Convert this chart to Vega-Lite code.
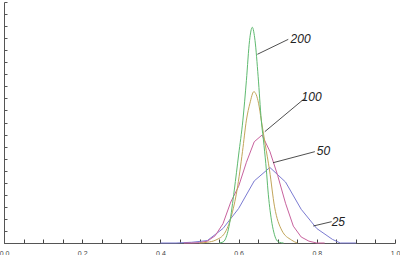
{
  "$schema": "https://vega.github.io/schema/vega-lite/v6.json",
  "width": 391,
  "height": 241,
  "autosize": {"type": "none"},
  "padding": {"left": 4, "top": 2, "right": 5, "bottom": 12},
  "background": "white",
  "config": {"view": {"stroke": null}},
  "datasets": {
    "curves": [
      {"n": "25", "x": 0.40, "y": 0},
      {"n": "25", "x": 0.44, "y": 0},
      {"n": "25", "x": 0.48, "y": 0.06},
      {"n": "25", "x": 0.52, "y": 0.2},
      {"n": "25", "x": 0.56, "y": 1.2},
      {"n": "25", "x": 0.60, "y": 2.86},
      {"n": "25", "x": 0.64, "y": 5.15},
      {"n": "25", "x": 0.68, "y": 6.27},
      {"n": "25", "x": 0.72, "y": 5.06},
      {"n": "25", "x": 0.76, "y": 2.8},
      {"n": "25", "x": 0.80, "y": 1.2},
      {"n": "25", "x": 0.84, "y": 0.3},
      {"n": "25", "x": 0.86, "y": 0},
      {"n": "25", "x": 0.90, "y": 0},
      {"n": "50", "x": 0.46, "y": 0},
      {"n": "50", "x": 0.48, "y": 0},
      {"n": "50", "x": 0.50, "y": 0.03},
      {"n": "50", "x": 0.52, "y": 0.15},
      {"n": "50", "x": 0.54, "y": 0.6},
      {"n": "50", "x": 0.56, "y": 1.6},
      {"n": "50", "x": 0.58, "y": 3.4},
      {"n": "50", "x": 0.60, "y": 4.7},
      {"n": "50", "x": 0.62, "y": 6.7},
      {"n": "50", "x": 0.64, "y": 8.4},
      {"n": "50", "x": 0.66, "y": 8.96},
      {"n": "50", "x": 0.68, "y": 7.6},
      {"n": "50", "x": 0.70, "y": 5.6},
      {"n": "50", "x": 0.72, "y": 3.3},
      {"n": "50", "x": 0.74, "y": 1.4},
      {"n": "50", "x": 0.76, "y": 0.5},
      {"n": "50", "x": 0.78, "y": 0.15},
      {"n": "50", "x": 0.80, "y": 0},
      {"n": "50", "x": 0.82, "y": 0},
      {"n": "100", "x": 0.50, "y": 0},
      {"n": "100", "x": 0.52, "y": 0.06},
      {"n": "100", "x": 0.542, "y": 0.25},
      {"n": "100", "x": 0.564, "y": 0.8},
      {"n": "100", "x": 0.581, "y": 2.18},
      {"n": "100", "x": 0.596, "y": 4.4},
      {"n": "100", "x": 0.61, "y": 7.6},
      {"n": "100", "x": 0.62, "y": 10.2},
      {"n": "100", "x": 0.629, "y": 11.6},
      {"n": "100", "x": 0.639, "y": 12.56},
      {"n": "100", "x": 0.651, "y": 11.6},
      {"n": "100", "x": 0.658, "y": 10.2},
      {"n": "100", "x": 0.668, "y": 8.2},
      {"n": "100", "x": 0.679, "y": 6.06},
      {"n": "100", "x": 0.692, "y": 3.0},
      {"n": "100", "x": 0.71, "y": 1.08},
      {"n": "100", "x": 0.735, "y": 0.25},
      {"n": "100", "x": 0.75, "y": 0},
      {"n": "200", "x": 0.55, "y": 0},
      {"n": "200", "x": 0.56, "y": 0.08},
      {"n": "200", "x": 0.565, "y": 0.25},
      {"n": "200", "x": 0.577, "y": 1.63},
      {"n": "200", "x": 0.589, "y": 4.4},
      {"n": "200", "x": 0.60, "y": 7.3},
      {"n": "200", "x": 0.611, "y": 10.2},
      {"n": "200", "x": 0.62, "y": 13.5},
      {"n": "200", "x": 0.628, "y": 16.8},
      {"n": "200", "x": 0.635, "y": 17.9},
      {"n": "200", "x": 0.642, "y": 16.8},
      {"n": "200", "x": 0.65, "y": 13.8},
      {"n": "200", "x": 0.658, "y": 10.2},
      {"n": "200", "x": 0.665, "y": 8.1},
      {"n": "200", "x": 0.671, "y": 6.06},
      {"n": "200", "x": 0.675, "y": 4.4},
      {"n": "200", "x": 0.684, "y": 1.9},
      {"n": "200", "x": 0.69, "y": 0.9},
      {"n": "200", "x": 0.697, "y": 0.25},
      {"n": "200", "x": 0.705, "y": 0.05},
      {"n": "200", "x": 0.715, "y": 0}
    ],
    "callouts": [
      {"label": "200", "x": 0.648, "y": 15.66, "x2": 0.727, "y2": 16.9},
      {"label": "100", "x": 0.667, "y": 9.24, "x2": 0.769, "y2": 12.0},
      {"label": "50", "x": 0.688, "y": 6.66, "x2": 0.795, "y2": 7.58},
      {"label": "25", "x": 0.791, "y": 1.41, "x2": 0.838, "y2": 1.77}
    ],
    "texts": [
      {"label": "200", "x": 0.733, "y": 16.93},
      {"label": "100", "x": 0.761, "y": 12.12},
      {"label": "50", "x": 0.800, "y": 7.63},
      {"label": "25", "x": 0.838, "y": 1.77}
    ]
  },
  "encoding": {
    "x": {
      "field": "x", "type": "quantitative",
      "scale": {"domain": [0, 1], "nice": false, "zero": false},
      "axis": {
        "title": null, "grid": false,
        "values": [0, 0.05, 0.1, 0.15, 0.2, 0.25, 0.3, 0.35, 0.4, 0.45, 0.5, 0.55, 0.6, 0.65, 0.7, 0.75, 0.8, 0.85, 0.9, 0.95, 1.0],
        "labelExpr": "abs(datum.value*5 - round(datum.value*5)) < 0.001 ? format(datum.value, '.1f') : ''",
        "labelFlush": false, "labelOverlap": false,
        "labelFont": "Liberation Sans", "labelFontSize": 7, "labelColor": "#444",
        "labelPadding": 10,
        "tickSize": -4, "tickColor": "#444", "tickWidth": 1,
        "domainColor": "#555", "domainWidth": 1
      }
    },
    "y": {
      "field": "y", "type": "quantitative",
      "scale": {"domain": [0, 20], "nice": false, "zero": true},
      "axis": {
        "title": null, "grid": false, "labels": false,
        "values": [0, 1, 2, 3, 4, 5, 6, 7, 8, 9, 10, 11, 12, 13, 14, 15, 16, 17, 18, 19, 20],
        "tickSize": -3, "tickColor": "#555", "tickWidth": 1,
        "domainColor": "#555", "domainWidth": 1,
        "encode": {"ticks": {"update": {"x2": {"signal": "datum.value % 5 == 0 ? 5 : 3"}}}}
      }
    }
  },
  "layer": [
    {
      "data": {"name": "curves"},
      "transform": [{"filter": "datum.n == '25' || datum.n == '50'"}],
      "mark": {"type": "line", "strokeWidth": 1, "interpolate": "linear"},
      "encoding": {
        "color": {
          "field": "n", "type": "nominal",
          "scale": {"domain": ["25", "50", "100", "200"], "range": ["#7b7bd2", "#c8629e", "#c2a55a", "#5fba70"]},
          "legend": null
        },
        "order": {"field": "x", "type": "quantitative"}
      }
    },
    {
      "data": {"name": "curves"},
      "transform": [{"filter": "datum.n == '100' || datum.n == '200'"}],
      "mark": {"type": "line", "strokeWidth": 1, "interpolate": "monotone"},
      "encoding": {
        "color": {"field": "n", "type": "nominal", "legend": null},
        "order": {"field": "x", "type": "quantitative"}
      }
    },
    {
      "data": {"name": "callouts"},
      "mark": {"type": "rule", "color": "#222", "strokeWidth": 0.8},
      "encoding": {
        "x2": {"field": "x2"},
        "y2": {"field": "y2"}
      }
    },
    {
      "data": {"name": "texts"},
      "mark": {"type": "text", "font": "Liberation Sans", "fontStyle": "italic", "fontSize": 12, "color": "#222", "align": "left", "baseline": "middle"},
      "encoding": {
        "text": {"field": "label"}
      }
    }
  ]
}
